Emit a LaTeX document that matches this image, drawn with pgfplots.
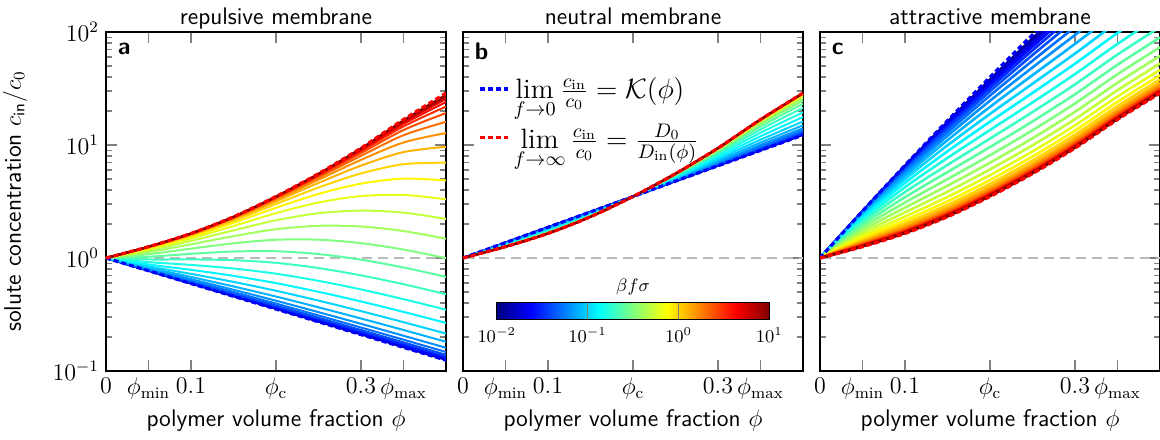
\RequirePackage{fix-cm}
\documentclass[border=0pt]{standalone}
\usepackage{fontspec}
\usepackage{pgfplots}
\usepackage{pgfplotstable}
\pgfplotsset{compat=1.18}
\usetikzlibrary{calc}

\definecolor{jet0}{rgb}{0,0,0.5}
\definecolor{jet1}{rgb}{0,0,0.633}
\definecolor{jet2}{rgb}{0,0,0.767}
\definecolor{jet3}{rgb}{0,0,0.9}
\definecolor{jet4}{rgb}{0,0.033,1}
\definecolor{jet5}{rgb}{0,0.167,1}
\definecolor{jet6}{rgb}{0,0.3,1}
\definecolor{jet7}{rgb}{0,0.433,1}
\definecolor{jet8}{rgb}{0,0.567,1}
\definecolor{jet9}{rgb}{0,0.7,1}
\definecolor{jet10}{rgb}{0,0.833,1}
\definecolor{jet11}{rgb}{0,0.967,1}
\definecolor{jet12}{rgb}{0.1,1,0.9}
\definecolor{jet13}{rgb}{0.233,1,0.767}
\definecolor{jet14}{rgb}{0.367,1,0.633}
\definecolor{jet15}{rgb}{0.5,1,0.5}
\definecolor{jet16}{rgb}{0.633,1,0.367}
\definecolor{jet17}{rgb}{0.767,1,0.233}
\definecolor{jet18}{rgb}{0.9,1,0.1}
\definecolor{jet19}{rgb}{1,0.967,0}
\definecolor{jet20}{rgb}{1,0.833,0}
\definecolor{jet21}{rgb}{1,0.7,0}
\definecolor{jet22}{rgb}{1,0.567,0}
\definecolor{jet23}{rgb}{1,0.433,0}
\definecolor{jet24}{rgb}{1,0.3,0}
\definecolor{jet25}{rgb}{1,0.167,0}
\definecolor{jet26}{rgb}{1,0.033,0}
\definecolor{jet27}{rgb}{0.9,0,0}
\definecolor{jet28}{rgb}{0.767,0,0}
\definecolor{jet29}{rgb}{0.633,0,0}
\definecolor{jet30}{rgb}{0.5,0,0}

% repulsive membrane
\pgfplotstableread{
phi K D c0 c1 c2 c3 c4 c5 c6 c7 c8 c9 c10 c11 c12 c13 c14 c15 c16 c17 c18 c19 c20 c21 c22 c23 c24 c25 c26 c27 c28 c29 c30
0 1 1 1 1 1 1 1 1 1 1 1 1 1 1 1 1 1 1 1 1 1 1 1 1 1 1 1 1 1 1 1 1 1
0.05 0.7709 1.259 0.7717 0.7722 0.7730 0.7743 0.7763 0.7793 0.7841 0.7914 0.8025 0.8192 0.8432 0.8764 0.9194 0.9706 1.0263 1.0808 1.1291 1.1681 1.1974 1.2182 1.2325 1.2419 1.2481 1.2521 1.2546 1.2562 1.2572 1.2579 1.2583 1.2586 1.2587
0.1 0.5943 1.649 0.5958 0.5966 0.5980 0.6002 0.6035 0.6088 0.6171 0.6301 0.6498 0.6798 0.7237 0.7857 0.8686 0.9716 1.0888 1.2094 1.3212 1.4154 1.4885 1.5417 1.5787 1.6035 1.6198 1.6304 1.6372 1.6415 1.6443 1.6460 1.6471 1.6478 1.6482
0.15 0.4581 2.316 0.4598 0.4608 0.4624 0.4649 0.4688 0.4750 0.4848 0.5001 0.5237 0.5601 0.6147 0.6948 0.8073 0.9566 1.1410 1.3490 1.5608 1.7555 1.9180 2.0433 2.1341 2.1969 2.2390 2.2667 2.2846 2.2961 2.3034 2.3080 2.3110 2.3128 2.3140
0.2 0.3532 3.50 0.3549 0.3559 0.3574 0.3599 0.3638 0.3700 0.3797 0.3950 0.4188 0.4560 0.5130 0.5992 0.7261 0.9059 1.1476 1.4502 1.7972 2.1577 2.4948 2.7810 3.0046 3.1681 3.2821 3.3589 3.4095 3.4423 3.4633 3.4768 3.4853 3.4907 3.4941
0.25 0.2723 5.58 0.2738 0.2747 0.2761 0.2782 0.2817 0.2873 0.2961 0.3100 0.3318 0.3662 0.4196 0.5022 0.6279 0.8146 1.0833 1.4522 1.9271 2.4906 3.0975 3.6870 4.2044 4.6202 4.9312 5.1513 5.3012 5.4006 5.4654 5.5071 5.5337 5.5508 5.5615
0.3 0.2099 9.39 0.2112 0.2120 0.2132 0.2151 0.2182 0.2230 0.2306 0.2426 0.2616 0.2916 0.3387 0.4125 0.5270 0.7023 0.9666 1.3538 1.8996 2.6285 3.5306 4.5540 5.6020 6.5704 7.3843 8.0131 8.4704 8.7874 9.0003 9.1403 9.2308 9.2890 9.3260
0.35 0.1618 16.8 0.1629 0.1635 0.1646 0.1662 0.1688 0.1728 0.1792 0.1893 0.2052 0.2306 0.2705 0.3334 0.4322 0.5862 0.8246 1.1882 1.7311 2.5199 3.6135 5.0402 6.7613 8.6496 10.524 12.201 13.568 14.603 15.342 15.850 16.188 16.408 16.551
0.4 0.1247 28.79 0.1256 0.1261 0.1270 0.1283 0.1304 0.1337 0.1390 0.1473 0.1605 0.1814 0.2144 0.2666 0.3490 0.4785 0.6814 0.9971 1.4830 2.2199 3.3088 4.8634 6.9726 9.6467 12.763 16.047 19.172 21.864 23.992 25.564 26.666 27.412 27.905
}\tabA

% neutral membrane
\pgfplotstableread{
phi K D c0 c1 c2 c3 c4 c5 c6 c7 c8 c9 c10 c11 c12 c13 c14 c15 c16 c17 c18 c19 c20 c21 c22 c23 c24 c25 c26 c27 c28 c29 c30
0 1 1 1 1 1 1 1 1 1 1 1 1 1 1 1 1 1 1 1 1 1 1 1 1 1 1 1 1 1 1 1 1 1
0.05 1.368 1.259 1.3672 1.3667 1.3659 1.3647 1.3629 1.3601 1.3559 1.3500 1.3420 1.3319 1.3200 1.3075 1.2956 1.2854 1.2773 1.2713 1.2671 1.2642 1.2624 1.2612 1.2604 1.2599 1.2596 1.2594 1.2592 1.2591 1.2591 1.2590 1.2590 1.2590 1.2590
0.1 1.871 1.649 1.8693 1.8683 1.8666 1.8641 1.8602 1.8542 1.8455 1.8331 1.8164 1.7952 1.7709 1.7454 1.7215 1.7010 1.6849 1.6731 1.6648 1.6593 1.6556 1.6532 1.6517 1.6507 1.6501 1.6497 1.6494 1.6493 1.6492 1.6491 1.6491 1.6490 1.6490
0.15 2.559 2.316 2.5572 2.5561 2.5543 2.5516 2.5474 2.5411 2.5318 2.5184 2.5004 2.4775 2.4511 2.4232 2.3967 2.3741 2.3562 2.3430 2.3338 2.3275 2.3234 2.3207 2.3190 2.3179 2.3172 2.3168 2.3165 2.3163 2.3162 2.3161 2.3161 2.3160 2.3160
0.2 3.499 3.50 3.50 3.50 3.50 3.50 3.50 3.50 3.50 3.50 3.50 3.50 3.50 3.50 3.50 3.50 3.50 3.50 3.50 3.50 3.50 3.50 3.50 3.50 3.50 3.50 3.50 3.50 3.50 3.50 3.50 3.50 3.50
0.25 4.786 5.58 4.7909 4.7937 4.7982 4.8052 4.8159 4.8324 4.8572 4.8932 4.9433 5.0096 5.0902 5.1799 5.2700 5.3514 5.4186 5.4699 5.5068 5.5322 5.5491 5.5602 5.5674 5.5720 5.5749 5.5768 5.5780 5.5787 5.5792 5.5795 5.5797 5.5798 5.5799
0.3 6.546 9.39 6.5601 6.5684 6.5815 6.6018 6.6337 6.6825 6.7566 6.8661 7.0214 7.2330 7.4998 7.8101 8.1363 8.4453 8.7106 8.9198 9.0741 9.1822 9.2553 9.3034 9.3348 9.3549 9.3677 9.3759 9.3811 9.3844 9.3864 9.3877 9.3886 9.3891 9.3894
0.35 8.954 16.8 8.9840 9.0014 9.0292 9.0723 9.1404 9.2454 9.4062 9.6476 9.9978 10.491 11.138 11.932 12.817 13.707 14.517 15.186 15.698 16.067 16.321 16.491 16.602 16.674 16.720 16.749 16.768 16.780 16.787 16.792 16.795 16.797 16.798
0.4 12.25 28.79 12.301 12.330 12.377 12.450 12.565 12.744 13.020 13.439 14.056 14.943 16.145 17.678 19.469 21.363 23.174 24.738 25.979 26.898 27.544 27.981 28.270 28.458 28.579 28.656 28.705 28.736 28.756 28.769 28.776 28.781 28.785
}\tabB

% attractive membrane
\pgfplotstableread{
phi K D c0 c1 c2 c3 c4 c5 c6 c7 c8 c9 c10 c11 c12 c13 c14 c15 c16 c17 c18 c19 c20 c21 c22 c23 c24 c25 c26 c27 c28 c29 c30
0 1 1 1 1 1 1 1 1 1 1 1 1 1 1 1 1 1 1 1 1 1 1 1 1 1 1 1 1 1 1 1 1 1
0.05 2.600 1.259 2.5870 2.5821 2.5754 2.5662 2.5537 2.5368 2.5143 2.4845 2.4455 2.3956 2.3333 2.2577 2.1693 2.0702 1.9642 1.8564 1.7523 1.6567 1.5727 1.5020 1.4443 1.3985 1.3630 1.3360 1.3157 1.3006 1.2894 1.2811 1.2751 1.2707 1.2675
0.1 6.607 1.649 6.5133 6.4786 6.4317 6.3684 6.2837 6.1718 6.0258 5.8392 5.6059 5.3238 4.9945 4.6262 4.2334 3.8354 3.4520 3.1006 2.7929 2.5340 2.3233 2.1565 2.0273 1.9289 1.8550 1.8000 1.7593 1.7294 1.7075 1.6915 1.6799 1.6714 1.6653
0.15 16.41 2.316 15.948 15.780 15.554 15.256 14.865 14.362 13.731 12.962 12.054 11.030 9.9256 8.7919 7.6874 6.6639 5.7583 4.9897 4.3597 3.8583 3.4680 3.1698 2.9450 2.7773 2.6532 2.5620 2.4950 2.4461 2.4105 2.3846 2.3658 2.3521 2.3422
0.2 39.81 3.50 37.933 37.269 36.395 35.259 33.815 32.024 29.874 27.389 24.635 21.736 18.834 16.070 13.567 11.396 9.5847 8.1214 6.9695 6.0817 5.4075 4.9022 4.5267 4.2496 4.0461 3.8973 3.7887 3.7096 3.6521 3.6103 3.5800 3.5580 3.5420
0.25 94.41 5.58 87.758 85.477 82.533 78.810 74.224 68.763 62.512 55.673 48.535 41.484 34.850 28.901 23.792 19.563 16.169 13.512 11.470 9.9273 8.7722 7.9157 7.2844 6.8213 6.4827 6.2358 6.0560 5.9253 5.8305 5.7616 5.7116 5.6754 5.6491
0.3 218.8 9.39 197.76 190.83 182.06 171.27 158.42 143.69 127.58 110.79 94.137 78.495 64.461 52.400 42.417 34.403 28.127 23.307 19.660 16.932 14.909 13.417 12.323 11.523 10.939 10.515 10.206 9.9818 9.8191 9.7010 9.6154 9.5533 9.5083
0.35 495.5 16.8 436.20 417.33 393.93 365.80 333.21 297.09 258.94 220.65 184.06 150.89 122.07 97.976 78.489 63.135 51.286 42.289 35.540 30.525 26.822 24.102 22.112 20.660 19.603 18.834 18.275 17.869 17.575 17.362 17.207 17.095 17.014
0.4 1096 28.79 931.39 881.35 820.79 750.10 670.95 586.51 500.83 418.26 342.39 276.00 220.09 174.57 138.53 110.61 89.339 73.351 61.446 52.651 46.182 41.446 37.989 35.470 33.637 32.306 31.339 30.638 30.130 29.761 29.493 29.300 29.159
}\tabC

\newcommand{\fan}[2]{%
  \addplot[gray!55, line width=0.6pt, dash pattern=on 5pt off 3pt, forget plot] coordinates {(0,1) (0.4,1)};
  \pgfplotsinvokeforeach{0,...,30}{\addplot[jet##1, line width=#2, smooth, forget plot] table[x=phi,y=c##1]{#1};}
}

\pgfplotsset{
  every axis title shift=0pt,
  panel/.style={
    scale only axis, width=170pt, height=169.5pt,
    xmin=0, xmax=0.4, ymin=0.1, ymax=100,
    xtick={0,0.05,0.1,0.2,0.3,0.35},
    xticklabels={$0$,$\phi_{\min}$,$0.1$,$\phi_{\mathrm{c}}$,$0.3$,$\phi_{\max}$},
    ytick={0.1,1,10,100},
    tick align=inside,
    major tick length=5.3pt, minor tick length=3.2pt,
    tick style={gray, line width=0.6pt},
    axis line style={line width=0.6pt},
    tick label style={font=\fontsize{12}{14}\selectfont},
    title style={font=\sffamily\fontsize{12}{14}\selectfont, at={(axis description cs:0.5,1)}, anchor=base, yshift=3.8pt},
    xlabel={polymer volume fraction $\phi$},
    xlabel style={font=\sffamily\fontsize{12}{14}\selectfont, at={(axis description cs:0.5,-0.145)}, anchor=center},
    ylabel style={font=\sffamily\fontsize{12}{14}\selectfont, at={(axis description cs:-0.268,0.5)}, anchor=center},
  },
  limK/.style={blue, line width=1.6pt, dash pattern=on 2.5pt off 1.5pt, smooth},
  limD/.style={red, line width=1.6pt, dash pattern=on 2.5pt off 1.5pt, smooth},
}

\begin{document}
\begin{tikzpicture}
\path[use as bounding box] (-53pt,-34pt) rectangle (527pt,185.5pt);

% panel a
\begin{axis}[ymode=log, panel, at={(0pt,0pt)}, anchor=south west,
  title={repulsive membrane},
  ylabel={solute concentration $c_{\mathsf{in}}/c_0$}]
\fan{\tabA}{1.0pt}
\addplot[limK, forget plot] table[x=phi,y=K]{\tabA};
\addplot[limD, forget plot] table[x=phi,y=D]{\tabA};
\node[font=\sffamily\bfseries\fontsize{12}{14}\selectfont, anchor=north west, inner sep=1pt] at (rel axis cs:0.028,0.975) {a};
\end{axis}

% panel b
\begin{axis}[ymode=log, panel, at={(178.5pt,0pt)}, anchor=south west,
  title={neutral membrane}, yticklabels={},
  colormap/jet, point meta min=-2, point meta max=1,
  colorbar horizontal,
  colorbar style={
    at={($(parent axis.south west)+(16.85pt,34.3pt)$)}, anchor=south west,
    scale only axis, width=136.3pt, height=8.65pt,
    xtick={-2,-1,0,1}, xticklabels={$10^{-2}$,$10^{-1}$,$10^{0}$,$10^{1}$},
    ytick=\empty,
    xtick pos=left, xticklabel pos=left,
    xticklabel style={font=\fontsize{9}{11}\selectfont, yshift=-0.5pt},
    major tick length=8.65pt, tick style={gray, line width=0.6pt},
    xlabel={}, ylabel={},
    title={$\beta f\sigma$},
    title style={font=\fontsize{9}{11}\selectfont, at={(axis description cs:0.5,1)}, anchor=south, yshift=0pt},
  },
  legend style={at={(axis description cs:0.044,0.88)}, anchor=north west, draw=none, fill=none,
    font=\fontsize{14}{16}\selectfont, row sep=7.5pt, inner sep=0pt},
  legend cell align=left,
  legend image code/.code={\draw[#1, line width=1.6pt] (0pt,0pt) -- (14pt,0pt);},
  ]
\fan{\tabB}{1.0pt}
\addplot[limK] table[x=phi,y=K]{\tabB};
\addlegendentry{$\lim\limits_{f\to 0}\frac{c_{\mathrm{in}}}{c_0} = \mathcal{K}(\phi)$}
\addplot[limD] table[x=phi,y=D]{\tabB};
\addlegendentry{$\lim\limits_{f\to\infty}\frac{c_{\mathrm{in}}}{c_0} = \frac{D_0}{D_{\mathrm{in}}(\phi)}$}
\node[font=\sffamily\bfseries\fontsize{12}{14}\selectfont, anchor=north west, inner sep=1pt] at (rel axis cs:0.028,0.975) {b};
\end{axis}

% panel c
\begin{axis}[ymode=log, panel, at={(357pt,0pt)}, anchor=south west,
  title={attractive membrane}, yticklabels={}]
\fan{\tabC}{1.3pt}
\addplot[limK, forget plot] table[x=phi,y=K]{\tabC};
\addplot[limD, forget plot] table[x=phi,y=D]{\tabC};
\node[font=\sffamily\bfseries\fontsize{12}{14}\selectfont, anchor=north west, inner sep=1pt] at (rel axis cs:0.028,0.975) {c};
\end{axis}
\end{tikzpicture}
\end{document}
